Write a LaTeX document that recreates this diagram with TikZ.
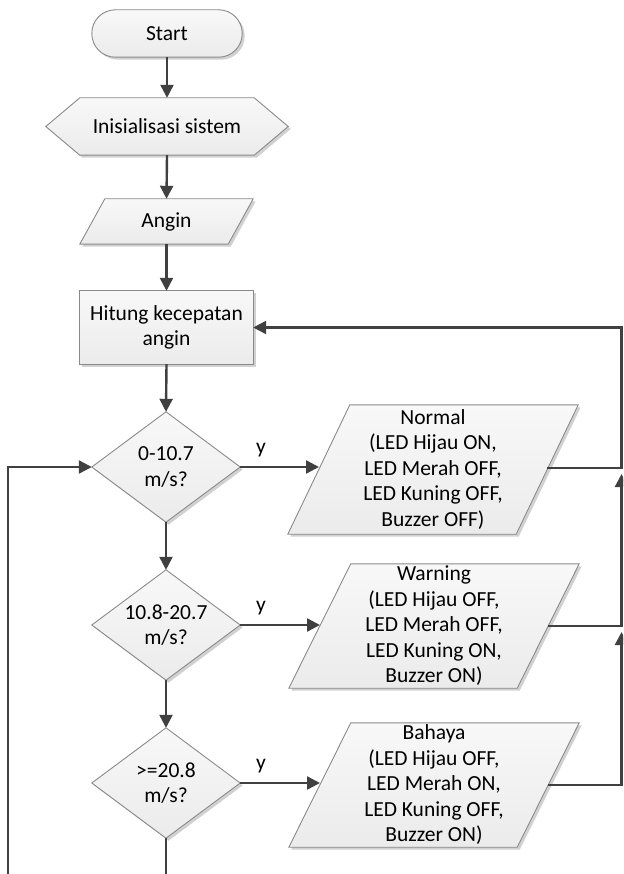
\documentclass[tikz,border=0pt]{standalone}
\usepackage{fontspec}
\setmainfont{Carlito}
\usetikzlibrary{arrows.meta,shadows,calc}
\definecolor{lineC}{HTML}{404040}
\definecolor{edgeC}{HTML}{8A8A8A}
\definecolor{fillTop}{HTML}{F8F8F8}
\definecolor{fillBot}{HTML}{EBEBEB}
\pgfdeclarelayer{bg}
\pgfsetlayers{bg,main}
\begin{document}
\begin{tikzpicture}[x=1pt,y=-1pt,
  shapeline/.style={draw=edgeC, line width=0.9pt, top color=fillTop, bottom color=fillBot,
    drop shadow={shadow xshift=2.5pt, shadow yshift=-2.5pt, opacity=0.18, fill=black}},
  txt/.style={inner sep=0pt, align=center, font=\fontsize{21.5}{25.5}\selectfont, text=black},
  flow/.style={draw=lineC, line width=2.4pt, -{Triangle[length=13pt,width=13pt]}},
  lbl/.style={inner sep=0pt, font=\fontsize{21.5}{25.5}\selectfont, text=black}
]
\useasboundingbox (0,0) rectangle (623,874);
\clip (0,0) rectangle (623,874);

% nodes (text + anchors)
\node[txt, minimum width=150pt, minimum height=47pt] (start) at (167,33.5) {Start};
\node[txt, minimum width=242pt, minimum height=57pt] (init) at (167,126.5) {Inisialisasi sistem};
\node[txt, minimum width=173pt, minimum height=45pt] (angin) at (166.5,221.5) {Angin};
\node[txt, minimum width=173pt, minimum height=73pt] (hitung) at (166.5,327.5) {Hitung kecepatan\\angin};
\node[txt, minimum width=148pt, minimum height=110pt] (d1) at (166,467) {0-10.7\\m/s?};
\node[txt, minimum width=148pt, minimum height=110pt] (d2) at (166,625) {10.8-20.7\\m/s?};
\node[txt, minimum width=148pt, minimum height=110pt] (d3) at (166,783) {>=20.8\\m/s?};
\node[txt, minimum width=290pt, minimum height=129pt] (normal) at (433,469.5)
  {Normal\\(LED Hijau ON,\\LED Merah OFF,\\LED Kuning OFF,\\Buzzer OFF)};
\node[txt, minimum width=290pt, minimum height=124pt] (warning) at (434,626)
  {Warning\\(LED Hijau OFF,\\LED Merah OFF,\\LED Kuning ON,\\Buzzer ON)};
\node[txt, minimum width=290pt, minimum height=124pt] (bahaya) at (434,785)
  {Bahaya\\(LED Hijau OFF,\\LED Merah ON,\\LED Kuning OFF,\\Buzzer ON)};

\node[lbl] (y1) at (261,450) {y};
\node[lbl] (y2) at (261,608) {y};
\node[lbl] (y3) at (261,766) {y};

% shapes
\begin{pgfonlayer}{bg}
\draw[shapeline, rounded corners=23.5pt] (start.north west) rectangle (start.south east);
\draw[shapeline] (init.west) -- ($(init.north west)+(34,0)$) -- ($(init.north east)+(-34,0)$)
  -- (init.east) -- ($(init.south east)+(-34,0)$) -- ($(init.south west)+(34,0)$) -- cycle;
\draw[shapeline] (angin.south west) -- ($(angin.north west)+(25,0)$) -- (angin.north east)
  -- ($(angin.south east)+(-25,0)$) -- cycle;
\draw[shapeline] (hitung.north west) rectangle (hitung.south east);
\foreach \d in {d1,d2,d3}{
  \draw[shapeline] (\d.north) -- (\d.east) -- (\d.south) -- (\d.west) -- cycle;
}
\foreach \p in {normal,warning,bahaya}{
  \draw[shapeline] (\p.south west) -- ($(\p.north west)+(62,0)$) -- (\p.north east)
    -- ($(\p.south east)+(-62,0)$) -- cycle;
}
\end{pgfonlayer}

% connector points
\coordinate (normal-in) at (319,467);
\coordinate (normal-out) at ($(normal.east)+(-31,-1.5)$);
\coordinate (warning-in) at (320,625);
\coordinate (warning-out) at ($(warning.east)+(-31,0)$);
\coordinate (bahaya-in) at (320,783);
\coordinate (bahaya-out) at ($(bahaya.east)+(-31,0)$);
\coordinate (loopL) at (8,900);
\coordinate (railtop) at (621.5,327.5);
\coordinate (j1) at (621.5,474);
\coordinate (j2) at (621.5,632);

% connectors
\draw[flow] (start.south) -- (init.north);
\draw[flow] (init.south) -- (angin.north);
\draw[flow] (angin.south) -- (hitung.north);
\draw[flow] (hitung.south) -- (d1.north);
\draw[flow] (d1.south) -- (d2.north);
\draw[flow] (d2.south) -- (d3.north);
\draw[flow] (d3.south) |- (loopL) |- (d1.west);
\draw[flow] (d1.east) -- (normal-in);
\draw[flow] (d2.east) -- (warning-in);
\draw[flow] (d3.east) -- (bahaya-in);
\draw[flow] (normal-out) -| (railtop) -- (hitung.east);
\draw[flow] (warning-out) -| (j1);
\draw[flow] (bahaya-out) -| (j2);
\end{tikzpicture}
\end{document}
